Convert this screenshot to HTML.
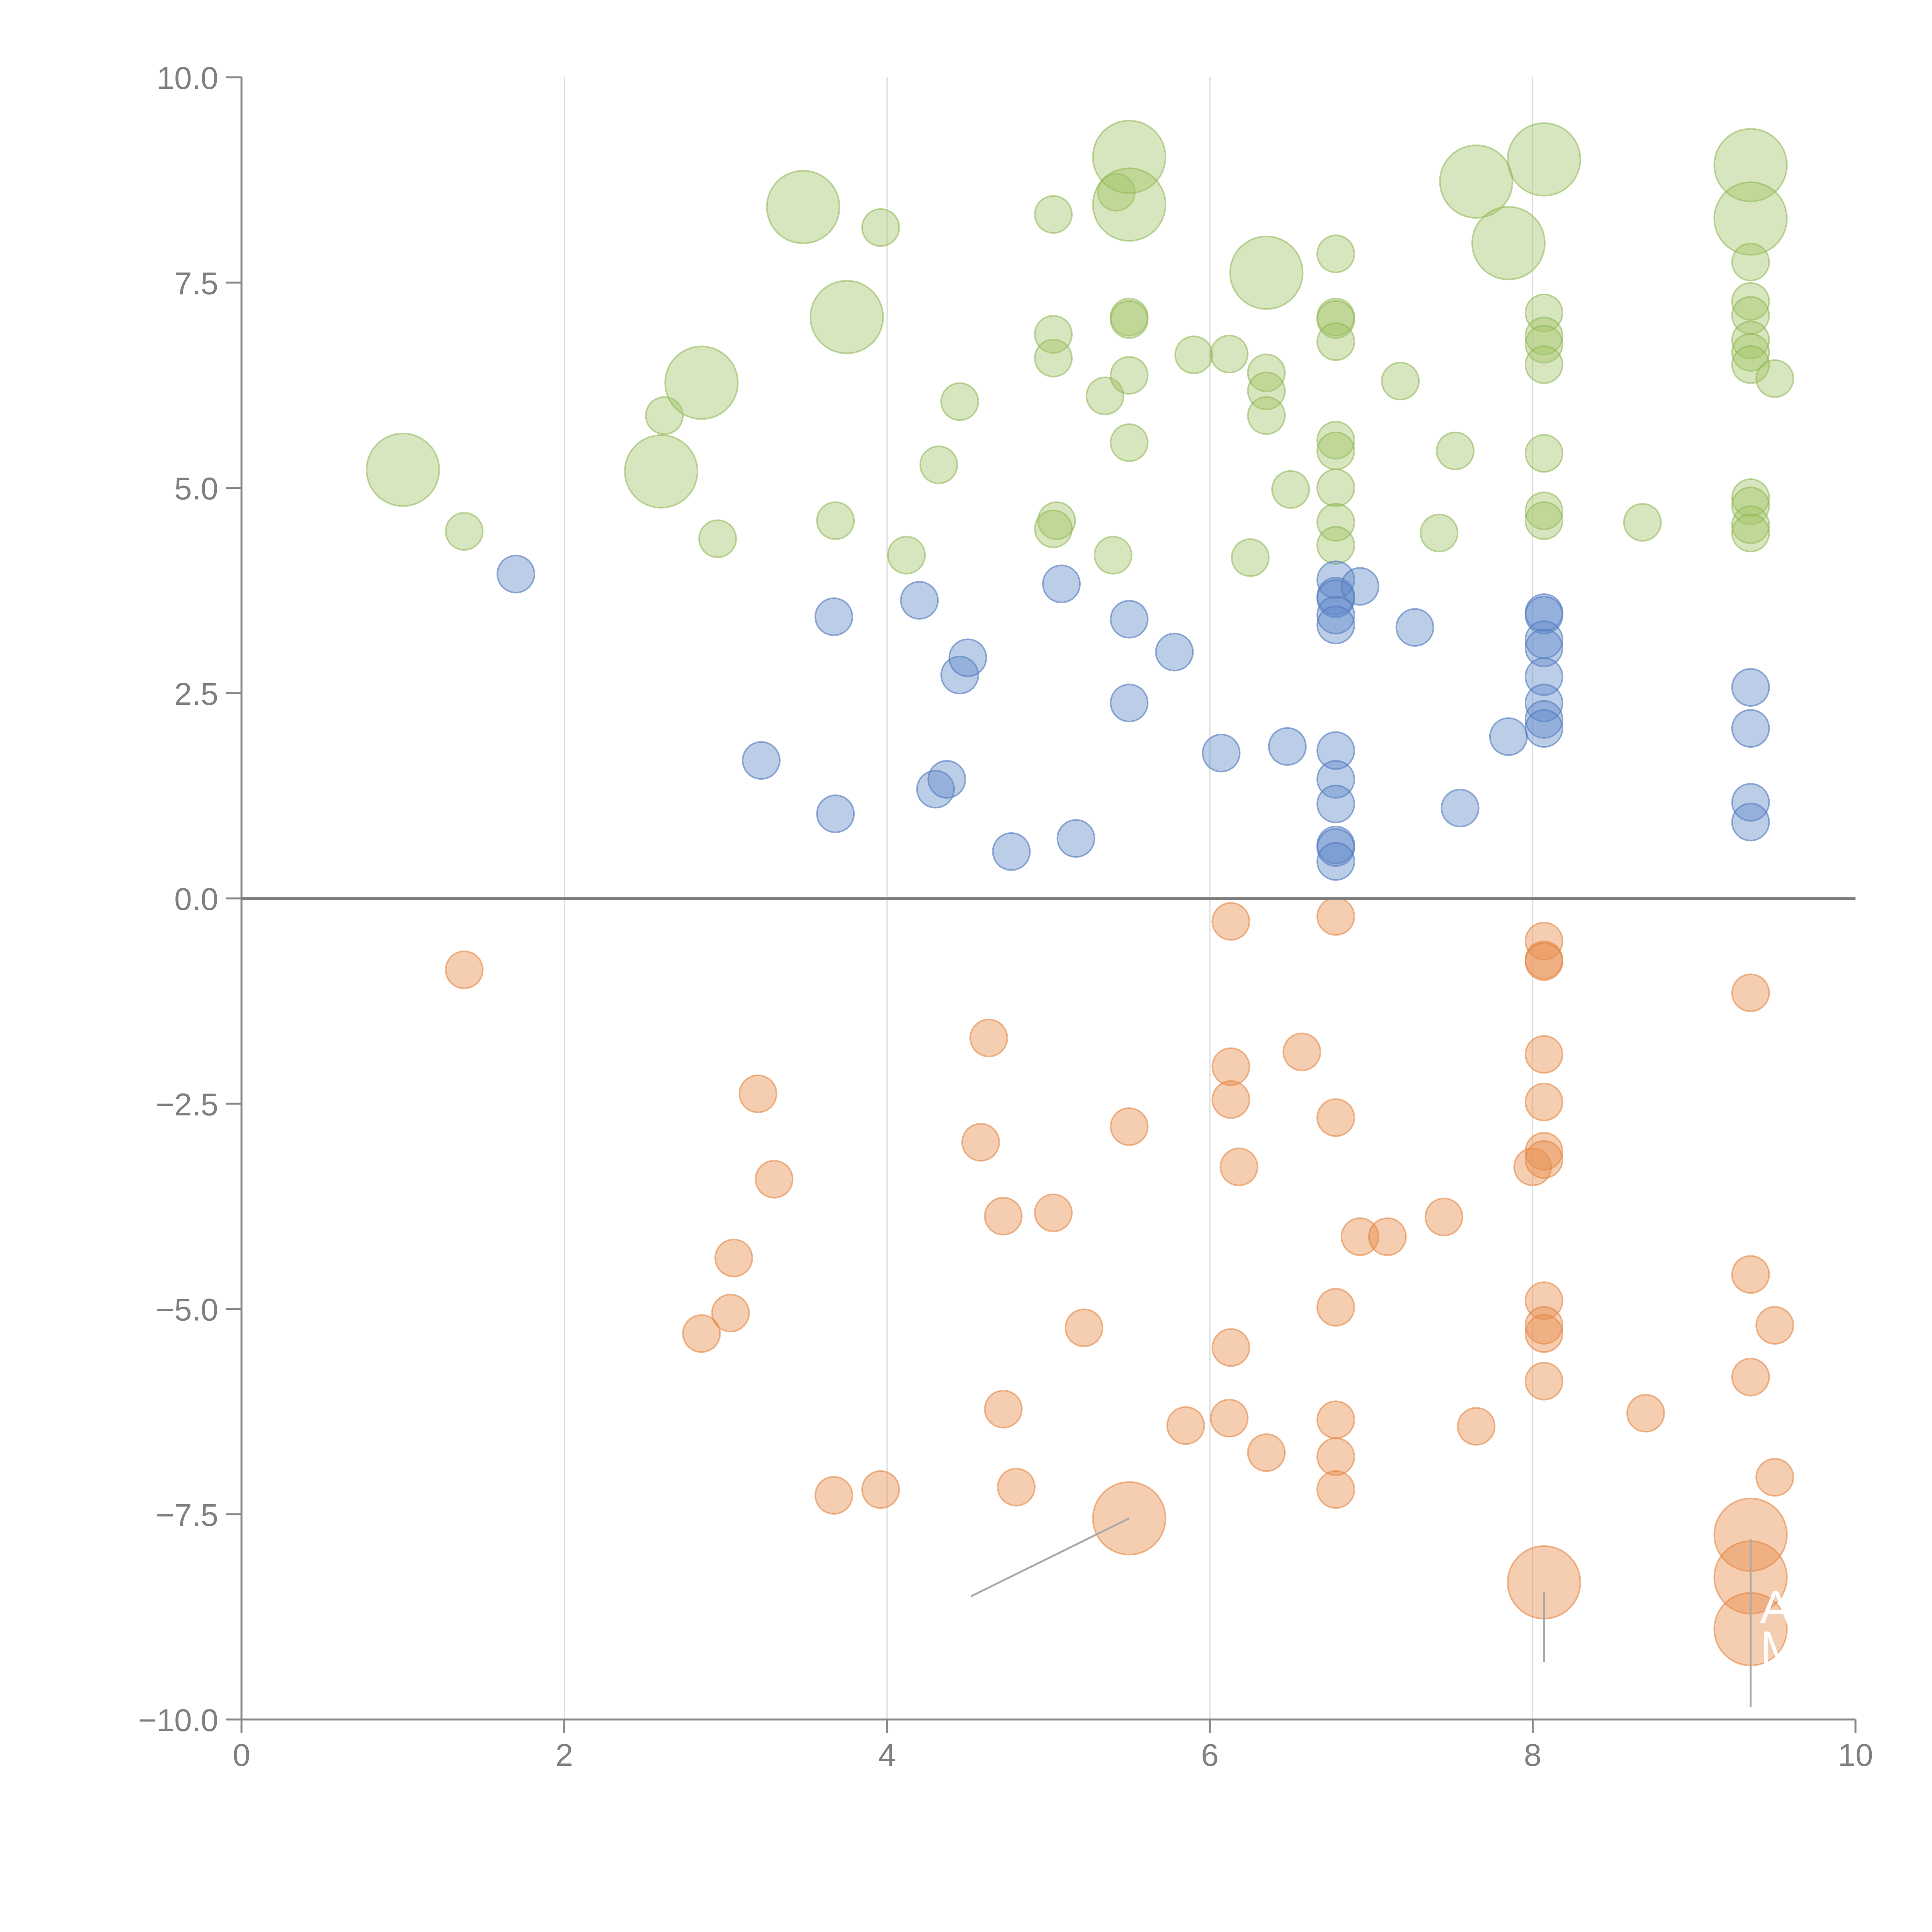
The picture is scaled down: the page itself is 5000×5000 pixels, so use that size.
<!DOCTYPE html>
<html><head><meta charset="utf-8">
<style>
html,body{margin:0;padding:0;background:#fff;}
svg{display:block;}
text{font-family:"Liberation Sans",Arial,sans-serif;}
</style></head>
<body>
<svg id="chart" width="5000" height="5000" viewBox="0 0 5000 5000" xmlns="http://www.w3.org/2000/svg">
<rect width="5000" height="5000" fill="#fff"/>
<g id="grid"></g>
<g id="marks"></g>
<g id="axes"></g>
<g id="annot"></g>
</svg>
<script>
const xTicks=[0,2,4,6,8,10];
const xTickLabels=["0","2","4","6","8","10"];
const yTicks=[10,7.5,5,2.5,0,-2.5,-5,-7.5,-10];
const yTickLabels=["10.0","7.5","5.0","2.5","0.0","\u22122.5","\u22125.0","\u22127.5","\u221210.0"];

const greenX=[1.0,1.38,2.6,2.62,2.85,2.95,3.48,3.68,3.75,3.96,4.12,4.32,4.45,5.03,5.03,5.03,5.05,5.03,5.35,5.4,5.42,5.5,5.5,5.5,5.5,5.5,5.5,5.9,6.12,6.25,6.35,6.35,6.35,6.35,6.5,6.78,6.78,6.78,6.78,6.78,6.78,6.78,6.78,6.78,7.18,7.42,7.52,7.65,7.85,8.07,8.07,8.07,8.07,8.07,8.07,8.07,8.07,8.68,9.35,9.35,9.35,9.35,9.35,9.35,9.35,9.35,9.35,9.35,9.35,9.35,9.5];
const greenY=[5.22,4.47,5.2,5.88,6.28,4.38,8.42,4.6,7.08,8.17,4.18,5.28,6.05,8.33,6.87,6.58,4.6,4.5,6.12,4.18,8.6,9.03,8.45,7.08,7.05,6.37,5.55,6.62,6.63,4.15,7.62,6.4,6.18,5.88,4.98,7.85,7.08,7.05,6.78,5.58,5.45,5.0,4.58,4.3,6.3,4.45,5.45,8.73,7.98,9.0,7.13,6.85,6.75,6.5,5.42,4.72,4.6,4.58,8.93,8.28,7.75,7.27,7.1,6.8,6.65,6.5,4.88,4.78,4.55,4.45,6.33];
const greenSize=[3,1,3,1,3,1,3,1,3,1,1,1,1,1,1,1,1,1,1,1,1,3,3,1,1,1,1,1,1,1,3,1,1,1,1,1,1,1,1,1,1,1,1,1,1,1,1,3,3,3,1,1,1,1,1,1,1,1,3,3,1,1,1,1,1,1,1,1,1,1,1];

const blueX=[1.7,3.22,3.67,3.68,4.2,4.3,4.37,4.45,4.5,4.77,5.08,5.17,5.5,5.5,5.78,6.07,6.48,6.78,6.78,6.78,6.78,6.78,6.78,6.78,6.78,6.78,6.78,6.78,6.93,7.27,7.55,7.85,8.07,8.07,8.07,8.07,8.07,8.07,8.07,8.07,9.35,9.35,9.35,9.35];
const blueY=[3.95,1.68,3.43,1.03,3.63,1.33,1.45,2.72,2.93,0.57,3.83,0.73,3.4,2.38,3.0,1.77,1.85,3.88,3.68,3.65,3.45,3.33,1.8,1.45,1.15,0.65,0.62,0.45,3.8,3.3,1.1,1.97,3.48,3.45,3.15,3.05,2.7,2.38,2.18,2.07,2.57,2.07,1.17,0.93];

const orangeX=[1.38,2.85,3.03,3.05,3.2,3.3,3.67,3.96,4.58,4.63,4.72,4.72,4.8,5.03,5.22,5.5,5.5,5.85,6.12,6.13,6.13,6.13,6.13,6.18,6.35,6.57,6.78,6.78,6.78,6.78,6.78,6.78,6.93,7.1,7.45,7.65,8.0,8.07,8.07,8.07,8.07,8.07,8.07,8.07,8.07,8.07,8.07,8.07,8.07,8.7,9.35,9.35,9.35,9.35,9.35,9.35,9.5,9.5];
const orangeY=[-0.87,-5.3,-5.05,-4.38,-2.38,-3.42,-7.27,-7.2,-2.97,-1.7,-3.87,-6.22,-7.17,-3.83,-5.23,-2.78,-7.55,-6.42,-6.33,-0.28,-2.05,-2.45,-5.47,-3.27,-6.75,-1.87,-0.22,-2.67,-4.98,-6.35,-6.8,-7.2,-4.12,-4.12,-3.88,-6.43,-3.27,-0.52,-0.75,-0.77,-1.9,-2.48,-3.08,-3.18,-4.9,-5.2,-5.3,-5.88,-8.33,-6.27,-1.15,-4.58,-5.83,-7.75,-8.27,-8.9,-5.2,-7.05];
const orangeSize=[1,1,1,1,1,1,1,1,1,1,1,1,1,1,1,1,3,1,1,1,1,1,1,1,1,1,1,1,1,1,1,1,1,1,1,1,1,1,1,1,1,1,1,1,1,1,1,1,3,1,1,1,1,3,3,3,1,1];

const X0=625,X1=4802,Y0=4450,Y1=200;
function sx(v){return X0+(v-0)/(10-0)*(X1-X0);}
function sy(v){return Y0-(v-(-10))/(20)*(Y0-Y1);}
function rad(s){return s===3?94:48;}
const NS="http://www.w3.org/2000/svg";
function mk(tag,attrs,parent){const e=document.createElementNS(NS,tag);for(const k in attrs)e.setAttribute(k,attrs[k]);parent.appendChild(e);return e;}

const grid=document.getElementById('grid');
xTicks.forEach(function(t){ if(t===0||t===10)return;
  const l=mk('line',{x1:sx(t),x2:sx(t),y1:Y1,y2:Y0,stroke:'#dcdcdc','stroke-width':3},grid);
  
  
});

const marks=document.getElementById('marks');
function series(xs,ys,sizes,fill,stroke,name){
  xs.forEach(function(x,i){
    const c=mk('circle',{cx:sx(x),cy:sy(ys[i]),r:rad(sizes?sizes[i]:1),fill:fill,stroke:stroke,'stroke-width':4},marks);
    
    
  });
}
series(greenX,greenY,greenSize,'rgba(160,195,100,0.42)','rgba(140,180,80,0.55)','green-bubble');
series(blueX,blueY,null,'rgba(95,135,200,0.42)','rgba(80,120,190,0.6)','blue-bubble');
series(orangeX,orangeY,orangeSize,'rgba(232,145,80,0.45)','rgba(225,130,60,0.55)','orange-bubble');

const axes=document.getElementById('axes');
let a;
a=mk('line',{x1:X0,x2:X0,y1:Y1,y2:Y0,stroke:'#888','stroke-width':5},axes);

a=mk('line',{x1:X0,x2:X1,y1:Y0,y2:Y0,stroke:'#888','stroke-width':5},axes);

a=mk('line',{x1:X0,x2:X1,y1:sy(0),y2:sy(0),stroke:'#808080','stroke-width':8},axes);

xTicks.forEach(function(t,i){
  const l=mk('line',{x1:sx(t),x2:sx(t),y1:Y0,y2:Y0+35,stroke:'#888','stroke-width':5},axes);
  
  const tx=mk('text',{x:sx(t),y:4570,'text-anchor':'middle','font-size':82,fill:'#808080'},axes);
  tx.textContent=xTickLabels[i];
  
});
yTicks.forEach(function(t,i){
  const l=mk('line',{x1:X0-40,x2:X0,y1:sy(t),y2:sy(t),stroke:'#888','stroke-width':5},axes);
  
  const tx=mk('text',{x:565,y:sy(t)+30,'text-anchor':'end','font-size':82,fill:'#808080'},axes);
  tx.textContent=yTickLabels[i];
  
});

const annot=document.getElementById('annot');
a=mk('line',{x1:sx(5.5),y1:sy(-7.55),x2:sx(4.52),y2:sy(-8.5),stroke:'#aaa','stroke-width':5},annot);

a=mk('line',{x1:sx(8.07),y1:sy(-8.45),x2:sx(8.07),y2:sy(-9.3),stroke:'#aaa','stroke-width':5},annot);

a=mk('line',{x1:sx(9.35),y1:sy(-7.8),x2:sx(9.35),y2:sy(-9.85),stroke:'#aaa','stroke-width':5},annot);

a=mk('text',{x:4555,y:4200,'font-size':120,fill:'#fff'},annot);a.textContent='A';

a=mk('text',{x:4555,y:4305,'font-size':120,fill:'#fff'},annot);a.textContent='M';

</script>
</body></html>
